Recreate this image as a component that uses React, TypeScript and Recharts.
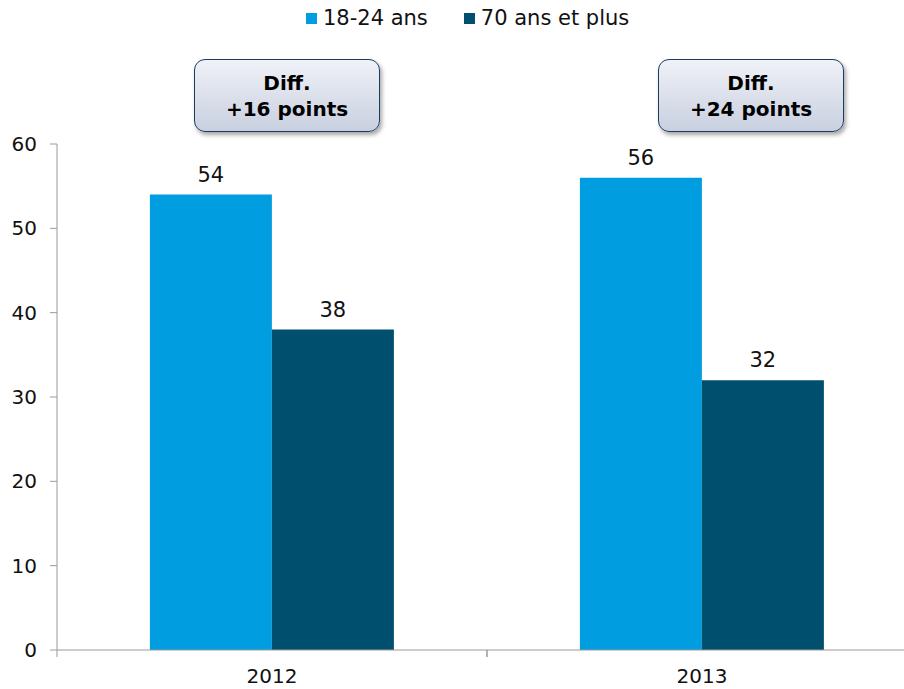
import React from "react";
import { Bar, BarChart, Legend, XAxis, YAxis } from "recharts";

const years = ["2012", "2013"];
const young = [54, 56];
const old = [38, 32];
const yTicks = [0, 10, 20, 30, 40, 50, 60];
const seriesNames = ["18-24 ans", "70 ans et plus"];

const data = years.map((year, i) => ({ year, young: young[i], old: old[i] }));

const FONT = "'DejaVu Sans', Verdana, sans-serif";
const AXIS = "#9a9a9a";
const LIGHT = "#009ee0";
const DARK = "#004f6e";

// x tick: label at category centre, small tick marks at category boundaries
const YearTick = (props: any) => {
  const { x, y, payload, width } = props;
  const half = width / (2 * years.length);
  const axisY = y - 7;
  return (
    <g>
      <line x1={x - half} x2={x - half} y1={axisY} y2={axisY + 7} stroke={AXIS} />
      <line x1={x + half} x2={x + half} y1={axisY} y2={axisY + 7} stroke={AXIS} />
      <text x={x} y={axisY + 33} textAnchor="middle" fontSize={20} fill="#111" fontFamily={FONT}>
        {payload.value}
      </text>
    </g>
  );
};

const LegendContent = () => (
  <div style={{ display: "flex", paddingLeft: 306, fontSize: 21, color: "#111", fontFamily: FONT }}>
    {seriesNames.map((name, i) => (
      <div key={name} style={{ display: "flex", alignItems: "center", marginRight: 36 }}>
        <span
          style={{ width: 11, height: 11, background: i === 0 ? LIGHT : DARK, display: "inline-block", marginRight: 6 }}
        />
        <span>{name}</span>
      </div>
    ))}
  </div>
);

const boxLeft = [194, 658];

export default function App() {
  return (
    <div
      style={{
        position: "absolute",
        left: 0,
        top: 0,
        width: 904,
        height: 689,
        overflow: "hidden",
        background: "#fff",
        fontFamily: FONT,
      }}
    >
      <BarChart
        width={917}
        height={689}
        data={data}
        margin={{ top: 114, right: 0, bottom: 0, left: 0 }}
        barCategoryGap="21.6%"
        barGap={0}
      >
        <Legend
          verticalAlign="top"
          height={30}
          content={<LegendContent />}
          wrapperStyle={{ top: 6, left: 0, width: 904 }}
        />
        <XAxis
          dataKey="year"
          height={39}
          stroke={AXIS}
          tickLine={false}
          tickSize={7}
          tickMargin={0}
          tick={<YearTick />}
          interval={0}
        />
        <YAxis
          width={57}
          domain={[0, 60]}
          ticks={yTicks}
          stroke={AXIS}
          tickSize={7}
          tickMargin={13}
          tick={{ fill: "#111", fontSize: 20, fontFamily: FONT }}
          interval={0}
        />
        <Bar
          dataKey="young"
          name={seriesNames[0]}
          fill={LIGHT}
          isAnimationActive={false}
          label={{ position: "top", offset: 13, fill: "#111", fontSize: 21, fontFamily: FONT }}
        />
        <Bar
          dataKey="old"
          name={seriesNames[1]}
          fill={DARK}
          isAnimationActive={false}
          label={{ position: "top", offset: 13, fill: "#111", fontSize: 21, fontFamily: FONT }}
        />
      </BarChart>
      {years.map((year, i) => (
        <div
          key={year}
          style={{
            position: "absolute",
            left: boxLeft[i],
            top: 59,
            width: 186,
            height: 73,
            boxSizing: "border-box",
            border: "1.5px solid #1d3a60",
            borderRadius: 11,
            background: "linear-gradient(#f0f2f8, #c8cfdf)",
            boxShadow: "2px 3px 4px rgba(0,0,0,0.35)",
            display: "flex",
            flexDirection: "column",
            alignItems: "center",
            justifyContent: "center",
            fontWeight: "bold",
            fontSize: 20,
            lineHeight: "26px",
            color: "#000",
          }}
        >
          <div>Diff.</div>
          <div>+{young[i] - old[i]} points</div>
        </div>
      ))}
    </div>
  );
}
